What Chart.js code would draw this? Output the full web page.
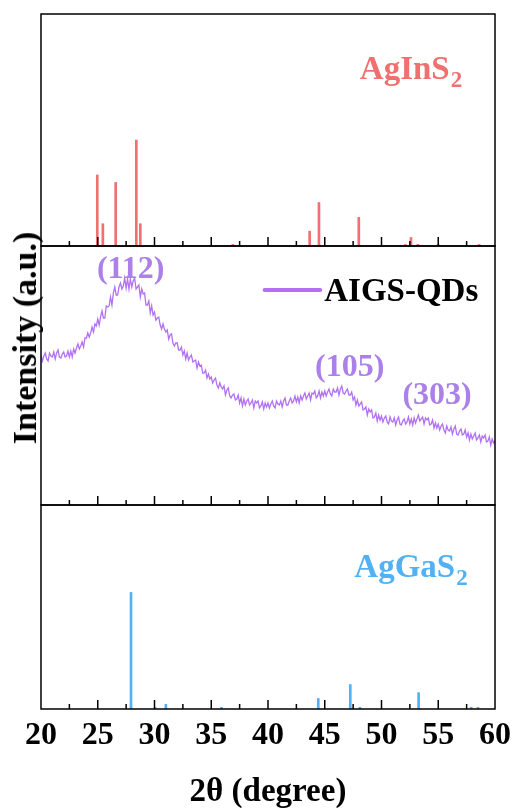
<!DOCTYPE html>
<html>
<head>
<meta charset="utf-8">
<script src="https://cdn.jsdelivr.net/npm/chart.js@4.4.1/dist/chart.umd.min.js"></script>
<style>
html, body { margin: 0; padding: 0; background: #fff; }
body { width: 513px; height: 808px; position: relative; overflow: hidden; }
.panel { position: absolute; left: 0; width: 513px; }
#ytitle {
    position: absolute; left: 25px; top: 338px;
    transform: translate(-50%, -50%) rotate(-90deg);
    font: bold 34px "Liberation Serif", serif; white-space: nowrap; color: #000;
}
</style>
</head>
<body>
<div class="panel" style="top:0;height:248px"><canvas id="c1"></canvas></div>
<div class="panel" style="top:240px;height:270px"><canvas id="c2"></canvas></div>
<div class="panel" style="top:500px;height:316px"><canvas id="c3"></canvas></div>
<div id="ytitle">Intensity (a.u.)</div>
<script>
// x axis ticks (major every 5, minor every 2.5)
const tickValues = [20, 22.5, 25, 27.5, 30, 32.5, 35, 37.5, 40, 42.5, 45, 47.5, 50, 52.5, 55, 57.5, 60];

// AgInS2 reference pattern
const aisPos = [24.96, 25.45, 26.58, 28.4, 28.75, 36.9, 43.67, 44.49, 48.0, 52.1, 52.6, 53.2, 55.0, 58.6];
const aisInt = [67, 21, 60, 100, 21, 1.5, 14, 41, 27, 1.5, 8, 1.5, 1.5, 1.5];

// AgGaS2 reference pattern
const agsPos = [27.93, 30.05, 31.0, 35.9, 44.43, 47.25, 48.1, 53.27, 57.9, 58.5];
const agsInt = [100, 1.5, 4, 1.5, 9, 21, 1.5, 14, 1.5, 1.5];

// AIGS-QDs measured pattern, 20..60 deg every 0.125 deg (one row = 1 deg)
const qdStart = 20, qdStep = 0.125;
const qdInt = [
    149, 144, 149, 152, 146, 144, 152, 149,
    148, 153, 146, 152, 155, 148, 147, 151,
    153, 148, 149, 154, 148, 154, 148, 156,
    152, 157, 161, 156, 159, 163, 158, 167,
    167, 172, 168, 172, 178, 173, 181, 179,
    186, 180, 188, 194, 187, 187, 199, 198,
    199, 208, 200, 212, 218, 210, 210, 218,
    222, 216, 219, 227, 217, 226, 216, 226,
    218, 224, 227, 216, 218, 220, 208, 216,
    211, 212, 200, 200, 204, 192, 199, 190,
    193, 185, 187, 188, 180, 176, 181, 176,
    173, 175, 166, 170, 171, 162, 159, 162,
    162, 155, 155, 158, 150, 154, 146, 152,
    145, 148, 150, 143, 144, 145, 137, 143,
    139, 140, 132, 132, 135, 127, 131, 126,
    128, 122, 125, 127, 120, 117, 122, 118,
    116, 119, 110, 115, 117, 109, 107, 110,
    111, 105, 106, 110, 102, 107, 99, 106,
    100, 104, 106, 100, 102, 105, 97, 104,
    102, 104, 97, 99, 103, 96, 102, 98,
    102, 97, 101, 104, 99, 97, 104, 101,
    100, 104, 98, 104, 107, 100, 100, 104,
    107, 102, 104, 109, 103, 108, 102, 109,
    105, 109, 112, 106, 109, 112, 105, 112,
    111, 114, 107, 109, 114, 107, 113, 109,
    114, 109, 113, 116, 111, 109, 116, 113,
    113, 117, 110, 116, 119, 112, 111, 114,
    116, 110, 110, 113, 105, 108, 100, 105,
    99, 101, 103, 95, 96, 98, 90, 96,
    93, 95, 87, 88, 92, 84, 90, 85,
    89, 83, 87, 89, 83, 81, 88, 84,
    83, 87, 80, 85, 88, 81, 80, 84,
    86, 81, 83, 88, 81, 86, 80, 87,
    82, 86, 90, 84, 86, 88, 81, 87,
    85, 87, 80, 81, 85, 77, 82, 77,
    81, 75, 79, 81, 75, 72, 79, 75,
    74, 78, 71, 76, 79, 71, 70, 74,
    76, 70, 71, 75, 68, 72, 65, 71,
    66, 69, 72, 65, 67, 70, 63, 69,
    67, 70, 63, 64, 68, 60, 66, 62,
    64
];

const RED = '#f07070', BLUE = '#52b1f3', PURPLE = '#b271f3', PURPLE_TXT = '#ab80e9';
const SERIF = '"Liberation Serif", "DejaVu Serif", serif';

function drawText(ctx, text, sub, cx, cy, size, color) {
    ctx.save();
    ctx.fillStyle = color;
    ctx.textBaseline = 'alphabetic';
    ctx.font = 'bold ' + size + 'px ' + SERIF;
    const w1 = ctx.measureText(text).width;
    let w2 = 0;
    const subSize = Math.round(size * 0.7);
    if (sub) {
        ctx.font = 'bold ' + subSize + 'px ' + SERIF;
        w2 = ctx.measureText(sub).width + 1;
    }
    const x0 = cx - (w1 + w2) / 2;
    const base = cy + size * 0.33;
    ctx.font = 'bold ' + size + 'px ' + SERIF;
    ctx.fillText(text, x0, base);
    if (sub) {
        ctx.font = 'bold ' + subSize + 'px ' + SERIF;
        ctx.fillText(sub, x0 + w1 + 1, base + 8);
    }
    ctx.restore();
}

const framePlugin = {
    id: 'frame',
    afterDraw(chart, args, opts) {
        const {ctx, chartArea: a, scales: {x, y}} = chart;
        ctx.save();
        ctx.strokeStyle = '#000';
        ctx.lineWidth = 1.5;
        ctx.strokeRect(a.left, a.top, a.right - a.left, a.bottom - a.top);
        tickValues.forEach(v => {
            if (v === 20 || v === 60) return;
            const px = x.getPixelForValue(v);
            const len = v % 5 === 0 ? 9 : 5;
            ctx.beginPath();
            ctx.moveTo(px, a.bottom);
            ctx.lineTo(px, a.bottom - len);
            ctx.stroke();
        });
        (opts.labels || []).forEach(l => {
            drawText(ctx, l.text, l.sub, x.getPixelForValue(l.x), y.getPixelForValue(l.y), l.size, l.color);
        });
        if (opts.legend) {
            const L = opts.legend;
            const y0 = y.getPixelForValue(L.y);
            ctx.strokeStyle = PURPLE;
            ctx.lineWidth = 4;
            ctx.lineCap = 'round';
            ctx.beginPath();
            ctx.moveTo(x.getPixelForValue(L.x1), y0);
            ctx.lineTo(x.getPixelForValue(L.x2), y0);
            ctx.stroke();
            ctx.fillStyle = '#000';
            ctx.font = 'bold 33px ' + SERIF;
            ctx.textBaseline = 'alphabetic';
            ctx.fillText(L.text, x.getPixelForValue(L.x2) + 4, y0 + 11);
        }
        ctx.restore();
    }
};

function xAxis(show) {
    return {
        type: 'linear', min: 20, max: 60, offset: false,
        display: show,
        afterBuildTicks: s => { s.ticks = tickValues.map(v => ({value: v})); },
        afterFit: s => { s.paddingLeft = 0; s.paddingRight = 0; },
        grid: {display: false, drawTicks: false, offset: false},
        border: {display: false},
        ticks: {
            autoSkip: false, maxRotation: 0, padding: 8, color: '#000',
            font: {family: SERIF, size: 32, weight: 'bold'},
            callback: v => (v % 5 === 0 ? String(v) : '')
        },
        title: {
            display: show, text: '2θ (degree)', color: '#000',
            font: {family: SERIF, size: 33, weight: 'bold'},
            padding: {top: 9, bottom: 0}
        }
    };
}

function baseOptions(yMax, pad, showX, frame) {
    return {
        responsive: true,
        maintainAspectRatio: false,
        animation: false,
        layout: {padding: pad},
        plugins: {legend: {display: false}, tooltip: {enabled: false}, frame: frame},
        scales: {
            x: xAxis(showX),
            y: {display: false, min: 0, max: yMax}
        }
    };
}

// top: AgInS2
new Chart(document.getElementById('c1'), {
    type: 'bar',
    data: {
        datasets: [{
            data: aisPos.map((p, i) => ({x: p, y: aisInt[i]})),
            backgroundColor: RED, barThickness: 2
        }]
    },
    options: baseOptions(219, {top: 14, left: 41, right: 18, bottom: 2}, false, {
        labels: [{text: 'AgInS', sub: '2', x: 52.6, y: 168, size: 33, color: RED}]
    }),
    plugins: [framePlugin]
});

// middle: AIGS-QDs
new Chart(document.getElementById('c2'), {
    type: 'line',
    data: {
        datasets: [{
            data: qdInt.map((v, i) => ({x: qdStart + i * qdStep, y: v})),
            borderColor: PURPLE, borderWidth: 1.3, pointRadius: 0, tension: 0
        }]
    },
    options: baseOptions(259, {top: 6, left: 41, right: 18, bottom: 5}, false, {
        labels: [
            {text: '(112)', x: 27.9, y: 238, size: 32, color: PURPLE_TXT},
            {text: '(105)', x: 47.2, y: 140, size: 32, color: PURPLE_TXT},
            {text: '(303)', x: 54.9, y: 112, size: 32, color: PURPLE_TXT}
        ],
        legend: {text: 'AIGS-QDs', x1: 39.7, x2: 44.6, y: 215}
    }),
    plugins: [framePlugin]
});

// bottom: AgGaS2
new Chart(document.getElementById('c3'), {
    type: 'bar',
    data: {
        datasets: [{
            data: agsPos.map((p, i) => ({x: p, y: agsInt[i]})),
            backgroundColor: BLUE, barThickness: 2
        }]
    },
    options: baseOptions(175, {top: 5, left: 41, right: 18, bottom: 4}, true, {
        labels: [{text: 'AgGaS', sub: '2', x: 52.6, y: 123, size: 33, color: BLUE}]
    }),
    plugins: [framePlugin]
});
</script>
</body>
</html>
